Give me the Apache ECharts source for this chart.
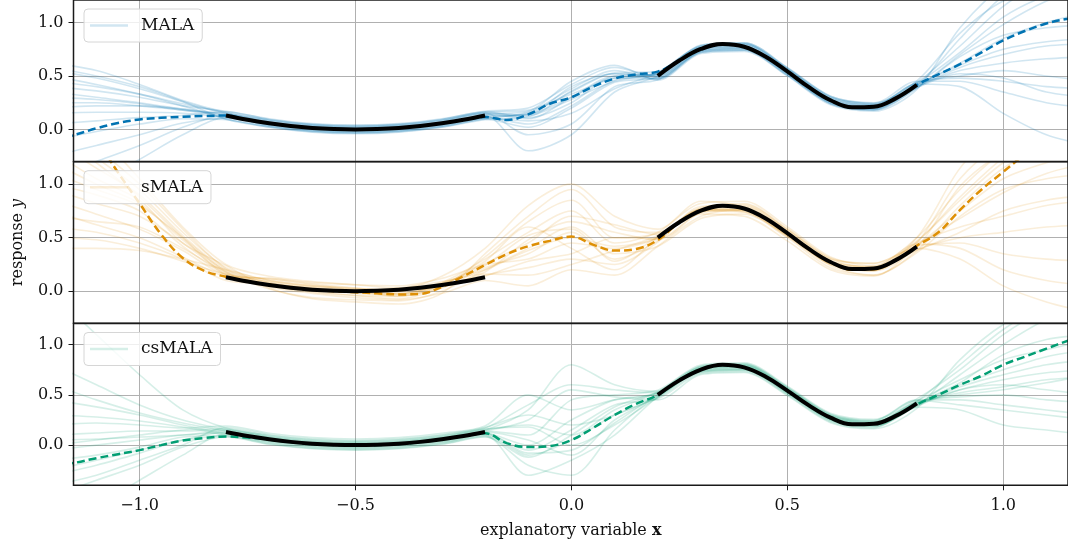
<!DOCTYPE html>
<html>
<head>
<meta charset="utf-8">
<script src="https://cdn.jsdelivr.net/npm/echarts@6/dist/echarts.min.js"></script>
<style>
  html, body { margin: 0; padding: 0; background: #fff; }
  #chart { width: 1068px; height: 547px; }
</style>
</head>
<body>
<div id="chart"></div>
<script>
// x positions of the posterior sample curves
const sampleX = [-1.2, -1.1, -1.0, -0.9, -0.8, -0.7, -0.6, -0.5, -0.4, -0.3, -0.2, -0.1, 0.0,
  0.1, 0.2, 0.3, 0.4, 0.5, 0.6, 0.7, 0.8, 0.9, 1.0, 1.1, 1.2]

// x positions of the posterior mean curves
const meanX = [-1.2, -1.15, -1.1, -1.05, -1.0, -0.95, -0.9, -0.85, -0.8, -0.75, -0.7, -0.65,
  -0.6, -0.55, -0.5, -0.45, -0.4, -0.35, -0.3, -0.25, -0.2, -0.15, -0.1, -0.05, 0.0,
  0.05, 0.1, 0.15, 0.2, 0.25, 0.3, 0.35, 0.4, 0.45, 0.5, 0.55, 0.6, 0.65, 0.7, 0.75,
  0.8, 0.85, 0.9, 0.95, 1.0, 1.05, 1.1, 1.15, 1.2]

// true function (black), on the two observed intervals
const trueLeftX = [-0.8, -0.75, -0.7, -0.65, -0.6, -0.55, -0.5, -0.45, -0.4, -0.35, -0.3, -0.25, -0.2]
const trueLeftY = [0.13, 0.09, 0.058, 0.032, 0.014, 0.004, 0.0, 0.004, 0.014, 0.032, 0.058, 0.09, 0.13]
const trueRightX = [0.2, 0.25, 0.3, 0.35, 0.4, 0.45, 0.5, 0.55, 0.6, 0.65, 0.7, 0.75, 0.8]
const trueRightY = [0.5, 0.644, 0.752, 0.799, 0.773, 0.68, 0.542, 0.395, 0.273, 0.207, 0.212, 0.288, 0.416]

// posterior means (dashed)
const malaMean = [-0.10, -0.05, 0.01, 0.06, 0.093, 0.108, 0.118, 0.125, 0.13, 0.09, 0.058, 0.032,
  0.014, 0.004, 0.0, 0.004, 0.014, 0.032, 0.058, 0.09, 0.115, 0.088, 0.14, 0.24, 0.30,
  0.40, 0.475, 0.515, 0.54, 0.644, 0.752, 0.799, 0.773, 0.68, 0.542, 0.395, 0.273, 0.207, 0.212, 0.288,
  0.416, 0.515, 0.61, 0.72, 0.832, 0.92, 0.99, 1.035, 1.06]
const smalaMean = [2.0, 1.7, 1.42, 1.11, 0.82, 0.53, 0.31, 0.19, 0.135, 0.095, 0.06, 0.03,
  0.01, 0.0, -0.01, -0.02, -0.03, -0.025, 0.04, 0.14, 0.245, 0.345, 0.42, 0.47, 0.51,
  0.435, 0.38, 0.395, 0.478, 0.644, 0.752, 0.799, 0.773, 0.68, 0.542, 0.395, 0.273, 0.20, 0.205, 0.288,
  0.425, 0.55, 0.76, 0.95, 1.115, 1.28, 1.43, 1.58, 1.72]
const csmalaMean = [-0.21, -0.176, -0.13, -0.09, -0.05, 0.0, 0.045, 0.07, 0.085, 0.075, 0.055, 0.03,
  0.01, 0.0, -0.005, 0.0, 0.01, 0.03, 0.06, 0.09, 0.117, 0.02, -0.02, -0.01, 0.05,
  0.17, 0.30, 0.41, 0.50, 0.644, 0.752, 0.799, 0.773, 0.68, 0.542, 0.395, 0.273, 0.207, 0.212, 0.288,
  0.405, 0.50, 0.60, 0.69, 0.80, 0.88, 0.96, 1.04, 1.12]

// posterior sample curves (a subset of the drawn curves)
const malaSamples = [
  [0.62, 0.55, 0.42, 0.27, 0.16, 0.09, 0.045, 0.03, 0.045, 0.09, 0.16, 0.18, 0.33, 0.48, 0.53, 0.78, 0.80, 0.57, 0.30, 0.24, 0.44, 0.78, 1.15, 1.40, 1.55],
  [0.50, 0.42, 0.33, 0.22, 0.10, 0.03, -0.015, -0.03, -0.015, 0.03, 0.10, 0.16, 0.38, 0.55, 0.47, 0.72, 0.74, 0.51, 0.24, 0.18, 0.39, 0.70, 0.98, 1.20, 1.35],
  [0.30, 0.28, 0.24, 0.18, 0.145, 0.07, 0.03, 0.015, 0.03, 0.07, 0.145, 0.10, 0.30, 0.50, 0.48, 0.73, 0.755, 0.52, 0.25, 0.19, 0.40, 0.55, 0.62, 0.66, 0.68],
  [0.15, 0.16, 0.16, 0.15, 0.115, 0.045, 0.0, -0.015, 0.0, 0.045, 0.115, 0.05, 0.22, 0.46, 0.52, 0.77, 0.795, 0.56, 0.29, 0.23, 0.435, 0.48, 0.45, 0.40, 0.38],
  [-0.45, -0.30, -0.15, 0.02, 0.13, 0.058, 0.014, 0.0, 0.014, 0.058, 0.13, -0.20, -0.05, 0.35, 0.50, 0.752, 0.773, 0.542, 0.273, 0.212, 0.416, 0.62, 0.85, 1.00, 1.10],
  [0.40, 0.36, 0.30, 0.22, 0.17, 0.10, 0.055, 0.04, 0.055, 0.10, 0.17, 0.20, 0.42, 0.58, 0.49, 0.74, 0.765, 0.53, 0.26, 0.20, 0.41, 0.85, 1.25, 1.50, 1.65],
  [-0.10, -0.02, 0.05, 0.10, 0.09, 0.02, -0.025, -0.04, -0.025, 0.02, 0.09, 0.12, 0.28, 0.45, 0.535, 0.785, 0.81, 0.575, 0.31, 0.245, 0.45, 0.45, 0.35, 0.25, 0.20],
  [0.55, 0.48, 0.38, 0.26, 0.15, 0.08, 0.035, 0.02, 0.035, 0.08, 0.15, -0.05, 0.05, 0.40, 0.465, 0.72, 0.74, 0.505, 0.24, 0.18, 0.385, 0.68, 0.88, 0.95, 0.98],
  [-0.70, -0.50, -0.28, -0.05, 0.11, 0.04, -0.005, -0.02, -0.005, 0.04, 0.11, 0.15, 0.35, 0.52, 0.51, 0.76, 0.78, 0.55, 0.28, 0.22, 0.425, 0.40, 0.15, -0.05, -0.15],
  [0.35, 0.30, 0.25, 0.19, 0.13, 0.058, 0.014, 0.0, 0.014, 0.058, 0.13, 0.14, 0.40, 0.52, 0.50, 0.752, 0.773, 0.542, 0.273, 0.212, 0.416, 0.60, 0.75, 0.82, 0.85],
  [0.20, 0.22, 0.22, 0.19, 0.14, 0.07, 0.025, 0.01, 0.025, 0.07, 0.14, 0.17, 0.45, 0.60, 0.46, 0.71, 0.73, 0.50, 0.23, 0.17, 0.375, 0.95, 1.35, 1.60, 1.70],
  [-0.25, -0.15, -0.05, 0.06, 0.105, 0.033, -0.011, -0.025, -0.011, 0.033, 0.105, 0.08, 0.15, 0.38, 0.525, 0.775, 0.80, 0.565, 0.30, 0.235, 0.44, 0.50, 0.55, 0.50, 0.45],
  [0.45, 0.40, 0.33, 0.24, 0.155, 0.083, 0.04, 0.025, 0.04, 0.083, 0.155, 0.13, 0.36, 0.53, 0.54, 0.79, 0.81, 0.58, 0.31, 0.25, 0.455, 0.90, 1.20, 1.30, 1.30],
  [0.25, 0.25, 0.22, 0.18, 0.12, 0.048, 0.004, -0.01, 0.004, 0.048, 0.12, 0.14, 0.30, 0.48, 0.475, 0.727, 0.748, 0.517, 0.248, 0.187, 0.39, 0.52, 0.48, 0.35, 0.30],
  [0.05, 0.08, 0.11, 0.13, 0.165, 0.093, 0.049, 0.035, 0.049, 0.093, 0.165, 0.11, 0.25, 0.50, 0.515, 0.767, 0.788, 0.557, 0.288, 0.227, 0.43, 0.72, 1.05, 1.25, 1.35],
  [0.58, 0.50, 0.40, 0.26, 0.095, 0.023, -0.021, -0.035, -0.021, 0.023, 0.095, 0.02, 0.20, 0.44, 0.485, 0.737, 0.758, 0.527, 0.258, 0.197, 0.40, 0.58, 0.70, 0.78, 0.80]
]
const smalaSamples = [
  [1.60, 1.25, 0.95, 0.55, 0.22, 0.10, 0.05, 0.02, -0.02, 0.08, 0.30, 0.55, 0.75, 0.45, 0.55, 0.82, 0.84, 0.60, 0.32, 0.24, 0.50, 0.95, 1.30, 1.50, 1.60],
  [1.10, 0.95, 0.80, 0.50, 0.18, 0.02, -0.06, -0.08, -0.09, 0.00, 0.20, 0.40, 0.60, 0.35, 0.42, 0.68, 0.72, 0.50, 0.22, 0.15, 0.38, 0.80, 1.15, 1.35, 1.45],
  [0.85, 0.72, 0.58, 0.38, 0.15, 0.12, 0.08, 0.06, 0.05, 0.12, 0.25, 0.30, 0.45, 0.40, 0.50, 0.78, 0.82, 0.58, 0.30, 0.22, 0.38, 0.55, 0.75, 0.85, 0.90],
  [1.30, 1.05, 0.85, 0.45, 0.24, 0.03, -0.07, -0.10, -0.12, -0.02, 0.35, 0.70, 0.95, 0.60, 0.55, 0.72, 0.70, 0.47, 0.20, 0.14, 0.45, 1.05, 1.40, 1.60, 1.70],
  [0.60, 0.55, 0.45, 0.30, 0.10, 0.07, 0.02, -0.01, -0.03, 0.05, 0.15, 0.22, 0.30, 0.25, 0.46, 0.79, 0.80, 0.57, 0.30, 0.26, 0.42, 0.45, 0.35, 0.30, 0.28],
  [2.00, 1.50, 1.05, 0.60, 0.25, 0.14, 0.09, 0.06, 0.03, 0.14, 0.40, 0.80, 1.00, 0.70, 0.58, 0.84, 0.78, 0.52, 0.25, 0.22, 0.50, 1.15, 1.55, 1.80, 1.90],
  [0.95, 0.82, 0.70, 0.45, 0.17, 0.04, -0.02, -0.06, -0.08, -0.02, 0.10, 0.05, 0.20, 0.15, 0.42, 0.70, 0.76, 0.54, 0.24, 0.15, 0.36, 0.70, 0.95, 1.05, 1.10],
  [1.40, 1.15, 0.90, 0.52, 0.20, 0.08, 0.03, 0.0, -0.05, 0.06, 0.28, 0.60, 0.40, 0.20, 0.50, 0.75, 0.78, 0.55, 0.27, 0.20, 0.46, 0.88, 1.25, 1.55, 1.70],
  [0.75, 0.62, 0.50, 0.32, 0.14, 0.12, 0.07, 0.03, 0.00, 0.05, 0.18, 0.48, 0.65, 0.55, 0.48, 0.74, 0.81, 0.58, 0.31, 0.26, 0.40, 0.30, 0.05, -0.10, -0.20],
  [1.20, 1.00, 0.82, 0.48, 0.19, 0.06, 0.00, -0.04, -0.07, 0.03, 0.22, 0.35, 0.55, 0.30, 0.47, 0.77, 0.75, 0.51, 0.26, 0.20, 0.43, 0.75, 1.05, 1.20, 1.30],
  [0.50, 0.48, 0.40, 0.28, 0.16, 0.11, 0.06, 0.02, 0.03, 0.09, 0.16, 0.15, 0.25, 0.38, 0.52, 0.76, 0.74, 0.52, 0.27, 0.21, 0.45, 0.60, 0.70, 0.80, 0.85],
  [1.80, 1.35, 1.00, 0.58, 0.21, 0.08, 0.02, -0.02, -0.04, 0.04, 0.32, 0.65, 0.85, 0.50, 0.54, 0.73, 0.76, 0.53, 0.25, 0.19, 0.41, 0.98, 1.30, 1.45, 1.50],
  [1.00, 0.90, 0.75, 0.42, 0.16, 0.09, 0.04, 0.01, -0.02, 0.06, 0.26, 0.45, 0.70, 0.62, 0.53, 0.77, 0.79, 0.56, 0.28, 0.23, 0.47, 0.85, 1.20, 1.40, 1.45],
  [0.70, 0.65, 0.60, 0.40, 0.18, 0.05, -0.01, -0.04, -0.05, 0.04, 0.14, 0.28, 0.35, 0.50, 0.49, 0.74, 0.77, 0.54, 0.26, 0.20, 0.39, 0.50, 0.55, 0.60, 0.62],
  [1.50, 1.20, 0.88, 0.50, 0.15, 0.07, 0.03, 0.0, -0.03, 0.07, 0.24, 0.52, 0.58, 0.28, 0.51, 0.75, 0.74, 0.52, 0.28, 0.23, 0.44, 0.40, 0.20, 0.10, 0.05],
  [0.40, 0.40, 0.38, 0.30, 0.20, 0.10, 0.05, 0.03, 0.00, 0.08, 0.20, 0.38, 0.50, 0.42, 0.50, 0.76, 0.76, 0.53, 0.26, 0.19, 0.43, 0.68, 0.92, 1.10, 1.20]
]
const csmalaSamples = [
  [1.50, 1.10, 0.70, 0.35, 0.17, 0.098, 0.054, 0.04, 0.054, 0.098, 0.17, 0.40, 0.60, 0.55, 0.52, 0.772, 0.793, 0.562, 0.293, 0.232, 0.436, 0.80, 1.15, 1.40, 1.55],
  [0.30, 0.28, 0.24, 0.18, 0.10, 0.028, -0.016, -0.03, -0.016, 0.028, 0.10, -0.10, 0.05, 0.30, 0.47, 0.722, 0.743, 0.512, 0.243, 0.182, 0.386, 0.55, 0.65, 0.72, 0.75],
  [-0.50, -0.35, -0.20, -0.02, 0.08, 0.008, -0.036, -0.05, -0.036, 0.008, 0.08, -0.20, -0.30, 0.15, 0.50, 0.752, 0.773, 0.542, 0.273, 0.212, 0.416, 0.62, 0.90, 1.05, 1.10],
  [0.10, 0.12, 0.14, 0.14, 0.15, 0.078, 0.034, 0.02, 0.034, 0.078, 0.15, 0.35, 0.80, 0.60, 0.535, 0.787, 0.808, 0.577, 0.308, 0.247, 0.45, 0.45, 0.40, 0.35, 0.30],
  [-0.30, -0.20, -0.08, 0.05, 0.13, 0.058, 0.014, 0.0, 0.014, 0.058, 0.13, 0.05, -0.10, 0.25, 0.485, 0.737, 0.758, 0.527, 0.258, 0.197, 0.40, 0.70, 1.00, 1.25, 1.40],
  [0.20, 0.22, 0.20, 0.17, 0.19, 0.118, 0.074, 0.06, 0.074, 0.118, 0.19, 0.50, 0.35, 0.45, 0.51, 0.762, 0.783, 0.552, 0.283, 0.222, 0.426, 0.50, 0.55, 0.62, 0.70],
  [-0.80, -0.60, -0.35, -0.10, 0.11, 0.038, -0.006, -0.02, -0.006, 0.038, 0.11, -0.05, 0.15, 0.40, 0.46, 0.712, 0.733, 0.502, 0.233, 0.172, 0.376, 0.35, 0.20, 0.15, 0.10],
  [0.80, 0.60, 0.40, 0.25, 0.155, 0.083, 0.039, 0.025, 0.039, 0.083, 0.155, 0.20, 0.10, 0.35, 0.525, 0.777, 0.798, 0.567, 0.298, 0.237, 0.44, 0.65, 0.85, 0.95, 1.05],
  [-0.15, -0.10, -0.02, 0.08, 0.095, 0.023, -0.021, -0.035, -0.021, 0.023, 0.095, -0.30, -0.15, 0.10, 0.48, 0.732, 0.753, 0.522, 0.253, 0.192, 0.396, 0.55, 0.60, 0.55, 0.50],
  [0.05, 0.06, 0.08, 0.10, 0.14, 0.068, 0.024, 0.01, 0.024, 0.068, 0.14, 0.10, 0.45, 0.50, 0.545, 0.797, 0.818, 0.587, 0.318, 0.257, 0.46, 0.75, 1.10, 1.35, 1.50],
  [-0.40, -0.30, -0.15, 0.00, 0.175, 0.103, 0.059, 0.045, 0.059, 0.103, 0.175, 0.30, 0.20, 0.30, 0.49, 0.742, 0.763, 0.532, 0.263, 0.202, 0.406, 0.60, 0.75, 0.88, 0.95],
  [0.45, 0.38, 0.30, 0.20, 0.115, 0.043, -0.001, -0.015, -0.001, 0.043, 0.115, 0.0, 0.25, 0.45, 0.515, 0.767, 0.788, 0.557, 0.288, 0.227, 0.43, 0.48, 0.50, 0.45, 0.42],
  [0.00, 0.05, 0.10, 0.15, 0.16, 0.088, 0.044, 0.03, 0.044, 0.088, 0.16, 0.18, 0.00, 0.20, 0.475, 0.727, 0.748, 0.517, 0.248, 0.187, 0.39, 0.58, 0.70, 0.80, 0.85],
  [-0.25, -0.15, -0.05, 0.05, 0.085, 0.013, -0.031, -0.045, -0.031, 0.013, 0.085, -0.12, 0.10, 0.38, 0.53, 0.782, 0.803, 0.572, 0.303, 0.242, 0.446, 0.40, 0.35, 0.30, 0.25],
  [0.60, 0.45, 0.32, 0.22, 0.14, 0.068, 0.024, 0.01, 0.024, 0.068, 0.14, 0.25, 0.55, 0.48, 0.45, 0.702, 0.723, 0.492, 0.223, 0.162, 0.366, 0.85, 1.20, 1.40, 1.50],
  [-0.05, 0.00, 0.05, 0.10, 0.12, 0.048, 0.004, -0.01, 0.004, 0.048, 0.12, -0.08, -0.05, 0.22, 0.505, 0.757, 0.778, 0.547, 0.278, 0.217, 0.42, 0.52, 0.58, 0.65, 0.68]
]

const methodNames = ['MALA', 'sMALA', 'csMALA']
const yRanges = [[-0.3, 1.21], [-0.3, 1.21], [-0.4, 1.21]]

const FONT = 'DejaVu Serif'
const colors = ['#0173b2', '#de8f05', '#029e73']
const faint = ['rgba(1,115,178,0.18)', 'rgba(222,143,5,0.15)', 'rgba(2,158,115,0.16)']
const panelTops = [0, 161.7, 323.5]
const panelHeights = [161.5, 161.6, 161.8]

const pairs = (xs, ys) => xs.map((x, i) => [x, ys[i]])
const tickFmt = v => (v < 0 ? '\u2212' : '') + Math.abs(v).toFixed(1)

let chart = echarts.init(document.getElementById('chart'))

let grids = [], xAxes = [], yAxes = [], legends = [], series = []
const samples = [malaSamples, smalaSamples, csmalaSamples]
const means = [malaMean, smalaMean, csmalaMean]

for (let p = 0; p < 3; p++) {
  grids.push({
    left: 73.5, right: -3, top: panelTops[p], height: panelHeights[p],
    show: true, borderColor: '#1a1a1a', borderWidth: 1.5, backgroundColor: 'transparent', z: 5
  })
  let last = p === 2
  xAxes.push({
    type: 'value', gridIndex: p, min: -1.153, max: 1.15,
    minInterval: 0.5, maxInterval: 0.5,
    axisLine: {show: false, onZero: false},
    axisTick: {show: last, length: 5, lineStyle: {color: '#1a1a1a', width: 1}},
    axisLabel: {
      show: last, margin: 13, color: '#111', fontFamily: FONT, fontSize: 16,
      showMinLabel: false, showMaxLabel: false, formatter: tickFmt
    },
    splitLine: {show: true, showMinLine: false, showMaxLine: false, lineStyle: {color: '#b0b0b0', width: 1}},
    name: last ? 'explanatory variable {b|x}' : '',
    nameLocation: 'middle', nameGap: 38,
    nameTextStyle: {
      fontFamily: FONT, fontSize: 16, color: '#111',
      rich: {b: {fontFamily: FONT, fontSize: 16, fontWeight: 'bold', color: '#111'}}
    }
  })
  yAxes.push({
    type: 'value', gridIndex: p, min: yRanges[p][0], max: yRanges[p][1],
    minInterval: 0.5, maxInterval: 0.5,
    axisLine: {show: false, onZero: false},
    axisTick: {show: true, length: 5, lineStyle: {color: '#1a1a1a', width: 1}},
    axisLabel: {
      margin: 10, color: '#111', fontFamily: FONT, fontSize: 16,
      showMinLabel: false, showMaxLabel: false, formatter: tickFmt
    },
    splitLine: {show: true, showMinLine: false, showMaxLine: false, lineStyle: {color: '#b0b0b0', width: 1}},
    name: p === 1 ? 'response {i|y}' : '',
    nameLocation: 'middle', nameGap: 48,
    nameTextStyle: {
      fontFamily: FONT, fontSize: 16, color: '#111',
      rich: {i: {fontFamily: FONT, fontSize: 16, fontStyle: 'italic', color: '#111'}}
    }
  })
  legends.push({
    left: 84, top: panelTops[p] + 9,
    orient: 'vertical',
    padding: [8, 8, 8, 6],
    backgroundColor: 'rgba(255,255,255,0.8)',
    borderColor: '#d6d6d6', borderWidth: 1, borderRadius: 4,
    itemWidth: 38, itemHeight: 2.5,
    selectedMode: false,
    textStyle: {fontFamily: FONT, fontSize: 17, color: '#111', padding: [0, 0, 0, 8]},
    data: [{name: methodNames[p], icon: 'rect', itemStyle: {color: faint[p]}}]
  })

  samples[p].forEach(line => {
    series.push({
      type: 'line', name: methodNames[p], xAxisIndex: p, yAxisIndex: p,
      data: pairs(sampleX, line), smooth: 0.3, showSymbol: false, silent: true, z: 1,
      lineStyle: {color: faint[p], width: 1.6}, itemStyle: {color: faint[p]}
    })
  })

  series.push({
    type: 'line', name: methodNames[p] + ' mean', xAxisIndex: p, yAxisIndex: p,
    data: pairs(meanX, means[p]), smooth: 0.4, showSymbol: false, silent: true, z: 2,
    lineStyle: {color: colors[p], width: 2.5, type: [8, 4]}, itemStyle: {color: colors[p]}
  })

  for (let seg of [[trueLeftX, trueLeftY], [trueRightX, trueRightY]]) {
    series.push({
      type: 'line', name: 'true', xAxisIndex: p, yAxisIndex: p,
      data: pairs(seg[0], seg[1]), smooth: 0.4, showSymbol: false, silent: true, z: 3,
      lineStyle: {color: '#000', width: 4, cap: 'butt'}, itemStyle: {color: '#000'}
    })
  }
}

chart.setOption({
  animation: false,
  backgroundColor: '#fff',
  grid: grids,
  xAxis: xAxes,
  yAxis: yAxes,
  legend: legends,
  series: series
})
</script>
</body>
</html>
